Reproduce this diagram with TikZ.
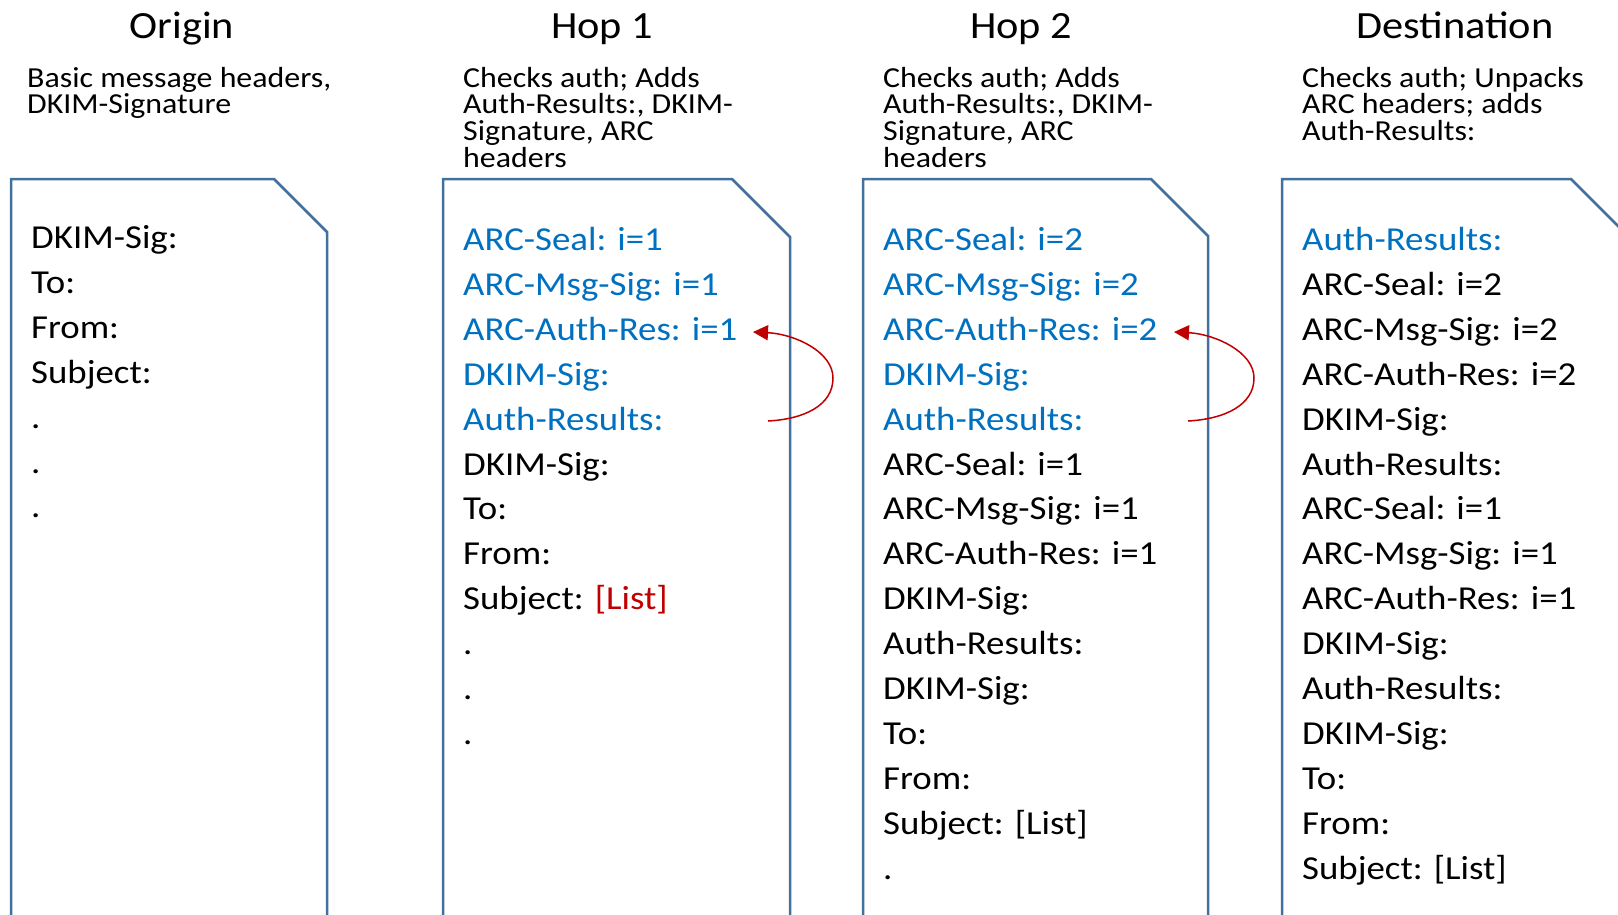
\documentclass[tikz,border=0pt]{standalone}
\usepackage{fontspec}
\setmainfont{Carlito}[FakeStretch=1.10]
\usetikzlibrary{arrows.meta}
\definecolor{boxc}{RGB}{65,113,156}
\definecolor{arcb}{RGB}{0,112,192}
\definecolor{arcr}{RGB}{192,0,0}
\newcommand\descfont{\fontsize{29}{26.7}\selectfont\setlength{\lineskiplimit}{-50pt}}
\tikzset{
 coltitle/.style={font=\fontsize{38.5}{40}\selectfont, anchor=base, inner sep=0},
 descr/.style={font=\descfont, anchor=base west, align=left, inner sep=0},
 hdr/.style={font=\fontsize{33.5}{40}\selectfont, anchor=base west, inner sep=0},
 msgbox/.style={draw=boxc, line width=2.5pt, line join=miter},
 backarrow/.style={draw=arcr, line width=1.5pt, -{Triangle[length=15pt,width=15pt]}},
}
\newcommand\bl[1]{\textcolor{arcb}{#1}}
\newcommand\rd[1]{\textcolor{arcr}{#1}}
\begin{document}
\begin{tikzpicture}[x=1pt,y=-1pt]
\useasboundingbox (0,0) rectangle (1618,914);
\clip (0,0) rectangle (1618,914);
\fill[white] (0,0) rectangle (1618,914);
% titles
\node[coltitle] (t0) at (182,38) {Origin};
\node[coltitle] (t1) at (602,38) {Hop 1};
\node[coltitle] (t2) at (1021,38) {Hop 2};
\node[coltitle] (t3) at (1455,38) {Destination};
% descriptions (anchored at the baseline of the last line)
\node[descr] (d0) at (27,113.7) {Basic message headers,\\DKIM-Signature};
\node[descr] (d1) at (463,167.1) {Checks auth; Adds\\Auth-Results:, DKIM-\\Signature, ARC\\headers};
\node[descr] (d2) at (883,167.1) {Checks auth; Adds\\Auth-Results:, DKIM-\\Signature, ARC\\headers};
\node[descr] (d3) at (1302,140.4) {Checks auth; Unpacks\\ARC headers; adds\\Auth-Results:};
% boxes
\draw[msgbox] (11,930) -- (11,179) -- (274,179) -- (327,232) -- (327,930);
\draw[msgbox] (443,930) -- (443,179) -- (732,179) -- (790,237) -- (790,930);
\draw[msgbox] (863,930) -- (863,179) -- (1151,179) -- (1208,236) -- (1208,930);
\draw[msgbox] (1282,930) -- (1282,179) -- (1571,179) -- (1650,258);
% lists
\foreach \t [count=\i from 0] in {DKIM-Sig:, To:, From:, Subject:, ., ., .}
  \node[hdr] (o\i) at (31,248.5+\i*44.9) {\t};
\foreach \t [count=\i from 0] in {\bl{ARC-Seal: i=1}, \bl{ARC-Msg-Sig: i=1}, \bl{ARC-Auth-Res: i=1}, \bl{DKIM-Sig:}, \bl{Auth-Results:}, DKIM-Sig:, To:, From:, Subject: \rd{[List]}, ., ., .}
  \node[hdr] (a\i) at (463,250.5+\i*44.9) {\t};
\foreach \t [count=\i from 0] in {\bl{ARC-Seal: i=2}, \bl{ARC-Msg-Sig: i=2}, \bl{ARC-Auth-Res: i=2}, \bl{DKIM-Sig:}, \bl{Auth-Results:}, ARC-Seal: i=1, ARC-Msg-Sig: i=1, ARC-Auth-Res: i=1, DKIM-Sig:, Auth-Results:, DKIM-Sig:, To:, From:, Subject: [List], .}
  \node[hdr] (b\i) at (883,250.5+\i*44.9) {\t};
\foreach \t [count=\i from 0] in {\bl{Auth-Results:}, ARC-Seal: i=2, ARC-Msg-Sig: i=2, ARC-Auth-Res: i=2, DKIM-Sig:, Auth-Results:, ARC-Seal: i=1, ARC-Msg-Sig: i=1, ARC-Auth-Res: i=1, DKIM-Sig:, Auth-Results:, DKIM-Sig:, To:, From:, Subject: [List]}
  \node[hdr] (c\i) at (1302,250.5+\i*44.9) {\t};
% arrows
\coordinate (p1s) at (768,421);
\coordinate (p1r) at (833,378);
\coordinate (p1t) at (753,332);
\draw[backarrow] (p1s) .. controls (805,419) and (833,405) .. (p1r) .. controls (833,352) and (795,334) .. (p1t);
\coordinate (p2s) at (1188,421);
\coordinate (p2r) at (1254,378);
\coordinate (p2t) at (1174,332);
\draw[backarrow] (p2s) .. controls (1225,419) and (1254,405) .. (p2r) .. controls (1254,352) and (1215,334) .. (p2t);
\end{tikzpicture}
\end{document}
